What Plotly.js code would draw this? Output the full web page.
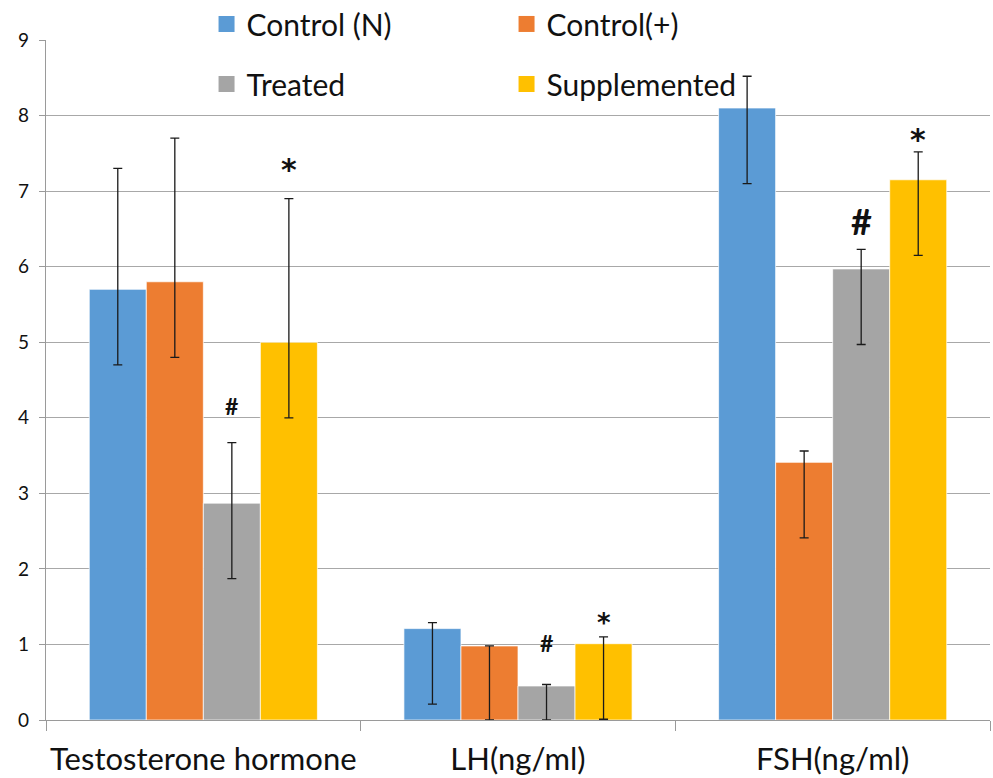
<!DOCTYPE html>
<html><head><meta charset="utf-8">
<script src="https://cdn.plot.ly/plotly-3.0.1.min.js"></script>
<style>html,body{margin:0;padding:0;overflow:hidden;background:#fff}</style>
</head><body>
<div id="chart" style="width:993px;height:778px"></div>
<script>
const categories = ['Testosterone hormone', 'LH(ng/ml)', 'FSH(ng/ml)'];
const seriesNames = ['Control (N)', 'Control(+)', 'Treated', 'Supplemented'];
const controlN = [5.7, 1.21, 8.1];
const controlNPlus = [1.6, 0.08, 0.42];
const controlNMinus = [1.0, 1.0, 1.0];
const controlP = [5.8, 0.98, 3.41];
const controlPPlus = [1.9, 0.0, 0.15];
const controlPMinus = [1.0, 0.98, 1.0];
const treated = [2.87, 0.45, 5.97];
const treatedPlus = [0.8, 0.02, 0.26];
const treatedMinus = [1.0, 0.45, 1.0];
const supplemented = [5.0, 1.01, 7.15];
const supplementedPlus = [1.9, 0.09, 0.37];
const supplementedMinus = [1.0, 1.0, 1.0];
const treatedMark = ['#', '#', '#'];
const treatedMarkY = [4.15, 1.02, 6.6];
const supplMark = ['*', '*', '*'];
const supplMarkY = [7.29, 1.29, 7.68];

const colors = ['#5B9BD5', '#ED7D31', '#A5A5A5', '#FFC000'];
const FONT = 'Lato, "Open Sans", sans-serif';
const MARKFONT = '"DejaVu Sans", sans-serif';
const values = [controlN, controlP, treated, supplemented];
const plus = [controlNPlus, controlPPlus, treatedPlus, supplementedPlus];
const minus = [controlNMinus, controlPMinus, treatedMinus, supplementedMinus];
const bargap = 0.275;

const traces = [];
values.forEach((v, i) => {
  traces.push({
    type: 'bar', x: categories, y: v, name: seriesNames[i], showlegend: false,
    marker: {color: colors[i], line: {color: 'rgba(255,255,255,0.7)', width: 1}},
    error_y: {type: 'data', symmetric: false, array: plus[i], arrayminus: minus[i],
      color: '#1a1a1a', thickness: 1.3, width: 4.5},
    hoverinfo: 'x+y'
  });
});
// legend entries
values.forEach((v, i) => {
  traces.push({
    type: 'scatter', mode: 'markers', x: [null], y: [null], name: seriesNames[i],
    marker: {symbol: 'square', size: 16, color: colors[i]},
    legend: i < 2 ? 'legend' : 'legend2', showlegend: true, hoverinfo: 'skip'
  });
});

const bw = (1 - bargap) / 4;
const annotations = [];
const sizesHash = [23, 23, 36];
const sizesStar = [30, 26, 30];
categories.forEach((c, i) => {
  annotations.push({xref: 'x', yref: 'y', x: i + 0.5 * bw, y: treatedMarkY[i], text: '<b>' + treatedMark[i] + '</b>',
    showarrow: false, font: {family: FONT, size: sizesHash[i], color: '#111'}, yanchor: 'middle'});
  annotations.push({xref: 'x', yref: 'y', x: i + 1.5 * bw, y: supplMarkY[i], text: '<b>' + supplMark[i] + '</b>',
    showarrow: false, font: {family: MARKFONT, size: sizesStar[i], color: '#111'}, yanchor: 'middle'});
});

const legendCommon = {orientation: 'h', xanchor: 'left', yanchor: 'middle', bgcolor: 'rgba(0,0,0,0)',
  xref: 'container', yref: 'container',
  font: {family: FONT, size: 30, color: '#111'}, entrywidth: 255, entrywidthmode: 'pixels', itemclick: false};

const layout = {
  width: 993, height: 778,
  margin: {l: 46, r: 3, t: 40, b: 58, autoexpand: false},
  paper_bgcolor: '#fff', plot_bgcolor: '#fff',
  barmode: 'group', bargap: bargap, bargroupgap: 0,
  font: {family: FONT, color: '#111'},
  xaxis: {type: 'category', tickson: 'boundaries', ticks: 'outside', ticklen: 10, tickcolor: '#9a9a9a',
    showline: true, linecolor: '#9a9a9a', linewidth: 1.3, showgrid: false, ticklabelstandoff: 12,
    tickangle: 0, automargin: false,
    tickfont: {family: FONT, size: 31, color: '#111'}, fixedrange: true},
  yaxis: {range: [0, 9], dtick: 1, ticks: 'outside', ticklen: 6, tickcolor: '#9a9a9a', automargin: false,
    showline: true, linecolor: '#9a9a9a', linewidth: 1.3, gridcolor: '#a8a8a8', gridwidth: 1.3,
    zeroline: false, ticklabelstandoff: 6,
    tickfont: {family: FONT, size: 19, color: '#111'}, fixedrange: true},
  legend: Object.assign({}, legendCommon, {x: 0.208, y: 0.9692}),
  legend2: Object.assign({}, legendCommon, {x: 0.208, y: 0.892}),
  annotations: annotations
};
Plotly.newPlot('chart', traces, layout, {displayModeBar: false});
</script>
</body></html>
